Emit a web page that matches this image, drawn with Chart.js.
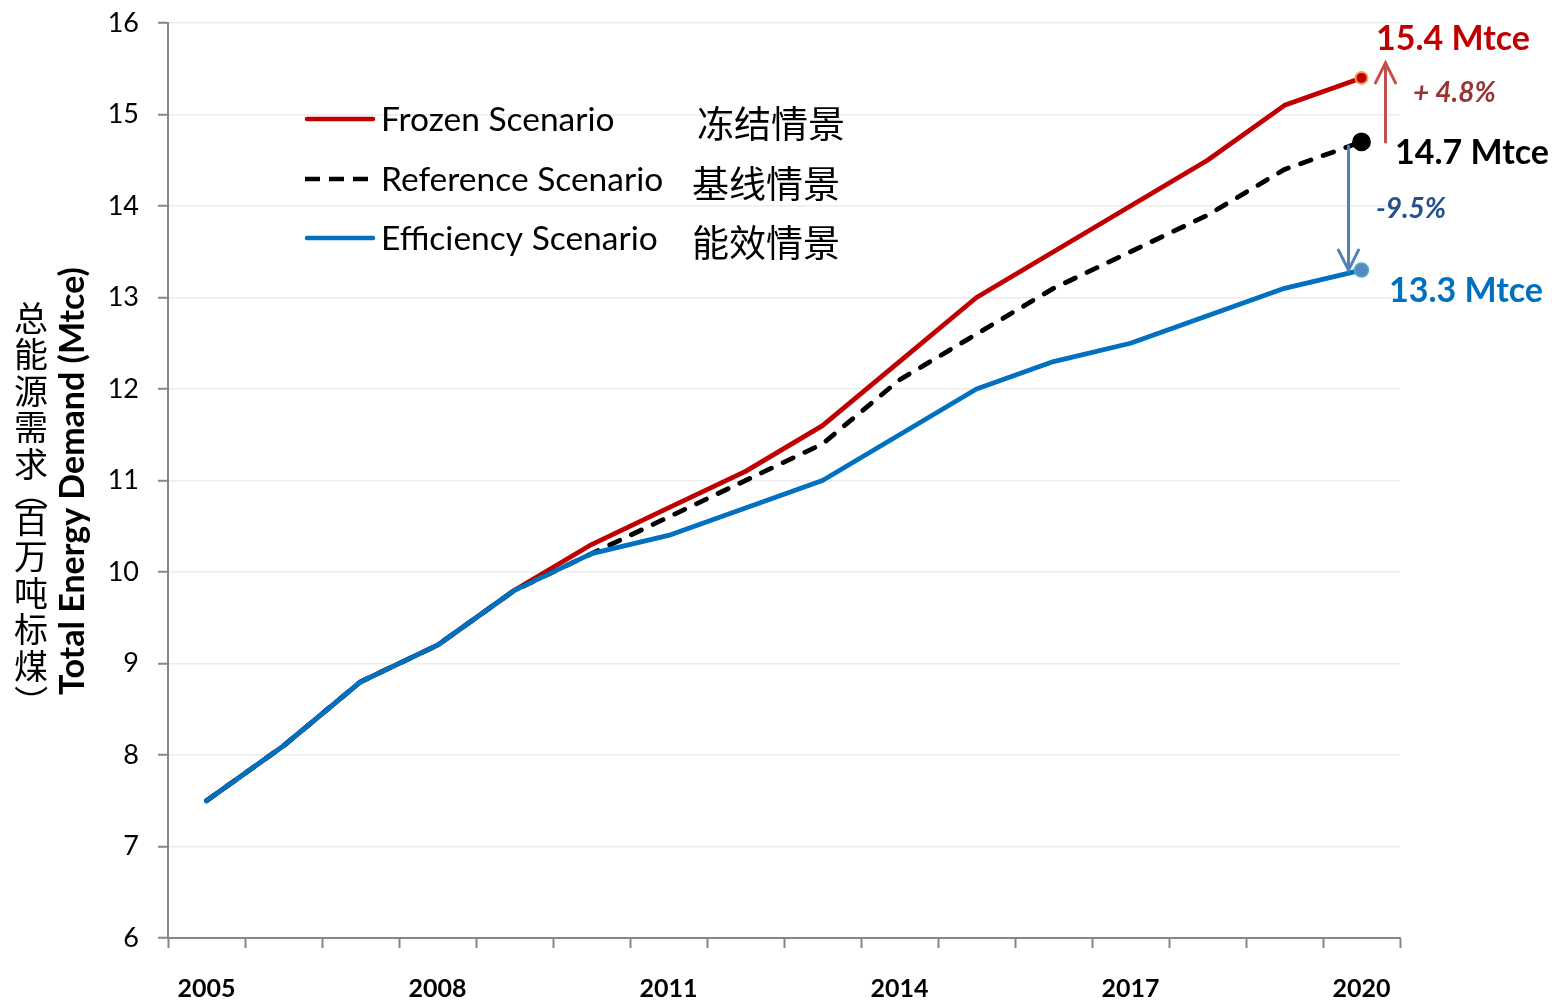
<!DOCTYPE html>
<html>
<head>
<meta charset="utf-8">
<title>Total Energy Demand</title>
<script src="https://cdn.jsdelivr.net/npm/chart.js@4.4.0/dist/chart.umd.min.js"></script>
<style>
  html, body { margin: 0; padding: 0; background: #fff; }
  #energy-chart { display: block; }
</style>
</head>
<body>
<canvas id="energy-chart" width="1552" height="1000"></canvas>
<script>
var years = ['2005', '2006', '2007', '2008', '2009', '2010', '2011', '2012',
             '2013', '2014', '2015', '2016', '2017', '2018', '2019', '2020'];

var frozen     = [7.5, 8.1, 8.8, 9.2, 9.8, 10.3, 10.7, 11.1, 11.6, 12.3, 13.0, 13.5, 14.0, 14.5, 15.1, 15.4];
var reference  = [7.5, 8.1, 8.8, 9.2, 9.8, 10.2, 10.6, 11.0, 11.4, 12.1, 12.6, 13.1, 13.5, 13.9, 14.4, 14.7];
var efficiency = [7.5, 8.1, 8.8, 9.2, 9.8, 10.2, 10.4, 10.7, 11.0, 11.5, 12.0, 12.3, 12.5, 12.8, 13.1, 13.3];

var yTicks = [6, 7, 8, 9, 10, 11, 12, 13, 14, 15, 16];

var seriesNames   = ['Frozen Scenario', 'Reference Scenario', 'Efficiency Scenario'];
var seriesNamesZh = ['冻结情景', '基线情景', '能效情景'];
var endLabels     = ['15.4 Mtce', '14.7 Mtce', '13.3 Mtce'];
var changeLabels  = ['+ 4.8%', '-9.5%'];
var titleEn = 'Total Energy Demand (Mtce)';
var titleZh = ['总', '能', '源', '需', '求', '（', '百', '万', '吨', '标', '煤', '）'];

var lineColors = ['#c00000', '#000000', '#0070c0'];
var axisGrey = '#868686';

// only the 2020 point gets a marker
function lastOnly(value) {
  return years.map(function(y, i) { return i === years.length - 1 ? value : 0; });
}

function isParen(ch) { return ch === '（' || ch === '）'; }

function drawArrow(c, x, yFrom, yTo, color) {
  var dir = yFrom > yTo ? 1 : -1;
  c.strokeStyle = color;
  c.lineWidth = 3;
  c.lineCap = 'round';
  c.beginPath();
  c.moveTo(x, yFrom);
  c.lineTo(x, yTo);
  c.moveTo(x - 10, yTo + dir * 20);
  c.lineTo(x, yTo);
  c.lineTo(x + 10, yTo + dir * 20);
  c.stroke();
}

var notesPlugin = {
  id: 'notes',
  afterDraw: function(chart) {
    var c = chart.ctx;
    var xs = chart.scales.x, ys = chart.scales.y;
    var last = years.length - 1;
    var xEnd = xs.getPixelForValue(last);
    var yFrozen = ys.getPixelForValue(frozen[last]);
    var yRef = ys.getPixelForValue(reference[last]);
    var yEff = ys.getPixelForValue(efficiency[last]);

    c.save();

    /// ARROWS ///
    drawArrow(c, xEnd + 24, yRef, yFrozen - 15, '#c0504d');
    drawArrow(c, xEnd - 13, yRef + 4, yEff, '#4f81bd');

    /// END LABELS ///
    c.textAlign = 'left';
    c.textBaseline = 'middle';
    c.font = 'bold 34px Lato';
    c.fillStyle = lineColors[0];
    c.fillText(endLabels[0], 1376, 39);
    c.fillStyle = lineColors[1];
    c.fillText(endLabels[1], 1395, 153);
    c.fillStyle = lineColors[2];
    c.fillText(endLabels[2], 1389, 291);

    c.font = 'italic bold 28px Lato';
    c.fillStyle = '#963634';
    c.fillText(changeLabels[0], 1413, 93);
    c.fillStyle = '#24508e';
    c.fillText(changeLabels[1], 1376, 209);

    /// LEGEND ///
    var rows = [119, 179, 238];
    var zhX = [697, 692, 692];
    for (var i = 0; i < 3; i++) {
      c.strokeStyle = lineColors[i];
      c.lineWidth = 4.5;
      c.lineCap = i === 1 ? 'butt' : 'round';
      c.setLineDash(i === 1 ? [15, 9] : []);
      c.beginPath();
      c.moveTo(i === 1 ? 305 : 307, rows[i]);
      c.lineTo(373, rows[i]);
      c.stroke();
      c.setLineDash([]);

      c.fillStyle = '#000';
      c.font = '33.5px Lato';
      c.fillText(seriesNames[i], 381, rows[i] + 1);
      c.font = '37px "Noto Sans CJK SC"';
      c.fillText(seriesNamesZh[i], zhX[i], rows[i] + 5);
    }

    /// AXIS TITLES ///
    c.save();
    c.translate(73, 481);
    c.rotate(-Math.PI / 2);
    c.textAlign = 'center';
    c.font = 'bold 34px Lato';
    c.fillText(titleEn, 0, 0);
    c.restore();

    // Chinese title: upright characters stacked, brackets turned
    c.textAlign = 'center';
    c.font = '34px "Noto Sans CJK SC"';
    var y = 318;
    for (var k = 0; k < titleZh.length; k++) {
      var ch = titleZh[k];
      if (isParen(ch)) {
        c.save();
        c.translate(31, ch === '）' ? y + 8 : y);
        c.rotate(Math.PI / 2);
        c.fillText(ch, 0, 0);
        c.restore();
      } else {
        c.fillText(ch, 31, y);
      }
      y += (isParen(ch) || isParen(titleZh[k + 1])) ? 28 : 36.5;
    }

    c.restore();
  }
};

function drawChart() {
  var ctx = document.getElementById('energy-chart').getContext('2d');
  new Chart(ctx, {
    type: 'line',
    data: {
      labels: years,
      datasets: [
        {
          label: seriesNames[2],
          data: efficiency,
          borderColor: lineColors[2],
          borderWidth: 4.8,
          borderCapStyle: 'round',
          borderJoinStyle: 'round',
          pointRadius: lastOnly(7),
          pointBackgroundColor: '#5689c4',
          pointBorderColor: '#4bacc6',
          pointBorderWidth: 1.5,
          order: 1
        },
        {
          label: seriesNames[1],
          data: reference,
          borderColor: lineColors[1],
          borderWidth: 4.8,
          borderDash: [11, 13],
          borderCapStyle: 'round',
          borderJoinStyle: 'round',
          pointRadius: lastOnly(7),
          pointBackgroundColor: '#000',
          pointBorderColor: '#000',
          order: 2
        },
        {
          label: seriesNames[0],
          data: frozen,
          borderColor: lineColors[0],
          borderWidth: 4.8,
          borderCapStyle: 'round',
          borderJoinStyle: 'round',
          pointRadius: lastOnly(6),
          pointBackgroundColor: lineColors[0],
          pointBorderColor: '#f0a050',
          pointBorderWidth: 2,
          order: 3
        }
      ]
    },
    options: {
      responsive: false,
      animation: false,
      devicePixelRatio: 1,
      layout: { padding: { left: 0, top: 23, right: 152, bottom: 0 } },
      elements: { line: { tension: 0 } },
      plugins: {
        legend: { display: false },
        tooltip: { enabled: false }
      },
      scales: {
        x: {
          type: 'category',
          offset: true,
          grid: {
            offset: true,
            drawOnChartArea: false,
            tickLength: 10,
            tickColor: axisGrey,
            tickWidth: 2
          },
          border: { color: axisGrey, width: 2 },
          ticks: {
            autoSkip: false,
            maxRotation: 0,
            padding: 26,
            color: '#000',
            font: { family: 'Lato', size: 25, weight: 'bold' },
            callback: function(v, i) { return i % 3 === 0 ? years[i] : ''; }
          },
          afterFit: function(scale) { scale.height = 62; }
        },
        y: {
          min: yTicks[0],
          max: yTicks[yTicks.length - 1],
          afterBuildTicks: function(scale) {
            scale.ticks = yTicks.map(function(v) { return { value: v }; });
          },
          grid: {
            color: '#ececec',
            lineWidth: 1.5,
            tickLength: 10,
            tickColor: axisGrey,
            tickWidth: 2
          },
          border: { color: axisGrey, width: 2 },
          ticks: {
            padding: 19,
            color: '#000',
            font: { family: 'Lato', size: 27 }
          },
          afterFit: function(scale) {
            scale.width = 168;
            scale.paddingTop = 0;
            scale.paddingBottom = 0;
          }
        }
      }
    },
    plugins: [notesPlugin]
  });
}

drawChart();
</script>
</body>
</html>
